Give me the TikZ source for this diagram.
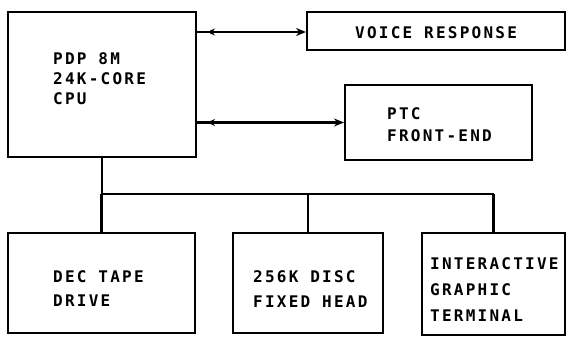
\documentclass[tikz,border=0pt]{standalone}
\usepackage{fontspec}
\usepackage{tikz}
\usetikzlibrary{arrows.meta,decorations.markings}
\newfontfamily\lettering[LetterSpace=14]{DejaVu Sans Mono}

\begin{document}
\begin{tikzpicture}[x=1pt, y=-1pt, >={Stealth[length=10pt,width=8pt]},
    box/.style={draw, line width=2pt, inner sep=0pt},
    wire/.style={line width=2.2pt},
    lbl/.style={font=\lettering\bfseries\fontsize{16}{#1}\selectfont, align=left, inner sep=0pt, anchor=north west},
    back/.style={postaction={decorate}, decoration={markings,
        mark=at position 18pt with {\arrow{Stealth[length=8pt,width=7pt,reversed]}}}}]
    \useasboundingbox (0,0) rectangle (566,340);

    \node[box, minimum width=188pt, minimum height=145pt] (cpu) at (102,84.5) {};
    \node[box, minimum width=258pt, minimum height=38pt] (vr) at (436,31) {};
    \node[box, minimum width=187pt, minimum height=75pt] (ptc) at (438.5,122.5) {};

    \node[box, minimum width=187pt, minimum height=100pt] (tape) at (101.5,283) {};
    \node[box, minimum width=150pt, minimum height=100pt] (disc) at (308,283) {};
    \node[box, minimum width=143pt, minimum height=102pt] (igt) at (493.5,284) {};

    \node[lbl=20] (cpulbl) at (53,52) {PDP 8M\\24K-CORE\\CPU};
    \node[lbl=20] (vrlbl) at (355,26) {VOICE RESPONSE};
    \node[lbl=22] (ptclbl) at (387,107) {PTC\\FRONT-END};
    \node[lbl=24] (tapelbl) at (53,270) {DEC TAPE\\DRIVE};
    \node[lbl=25] (disclbl) at (253,270) {256K DISC\\FIXED HEAD};
    \node[lbl=26] (igtlbl) at (430,257) {INTERACTIVE\\GRAPHIC\\TERMINAL};

    \draw[wire, back, ->] (cpu.east |- 0,32) -- (vr.west |- 0,32);
    \draw[wire, back, ->] (cpu.east |- ptc.west) -- (ptc.west);

    \coordinate (bus) at (0,194);
    \draw[wire] (cpu.south) -- (cpu.south |- bus);
    \draw[wire] (tape.north |- bus) -- (igt.north |- bus);
    \foreach \n in {tape,disc,igt}
        \draw[wire] (\n.north |- bus) -- (\n.north);
\end{tikzpicture}
\end{document}
